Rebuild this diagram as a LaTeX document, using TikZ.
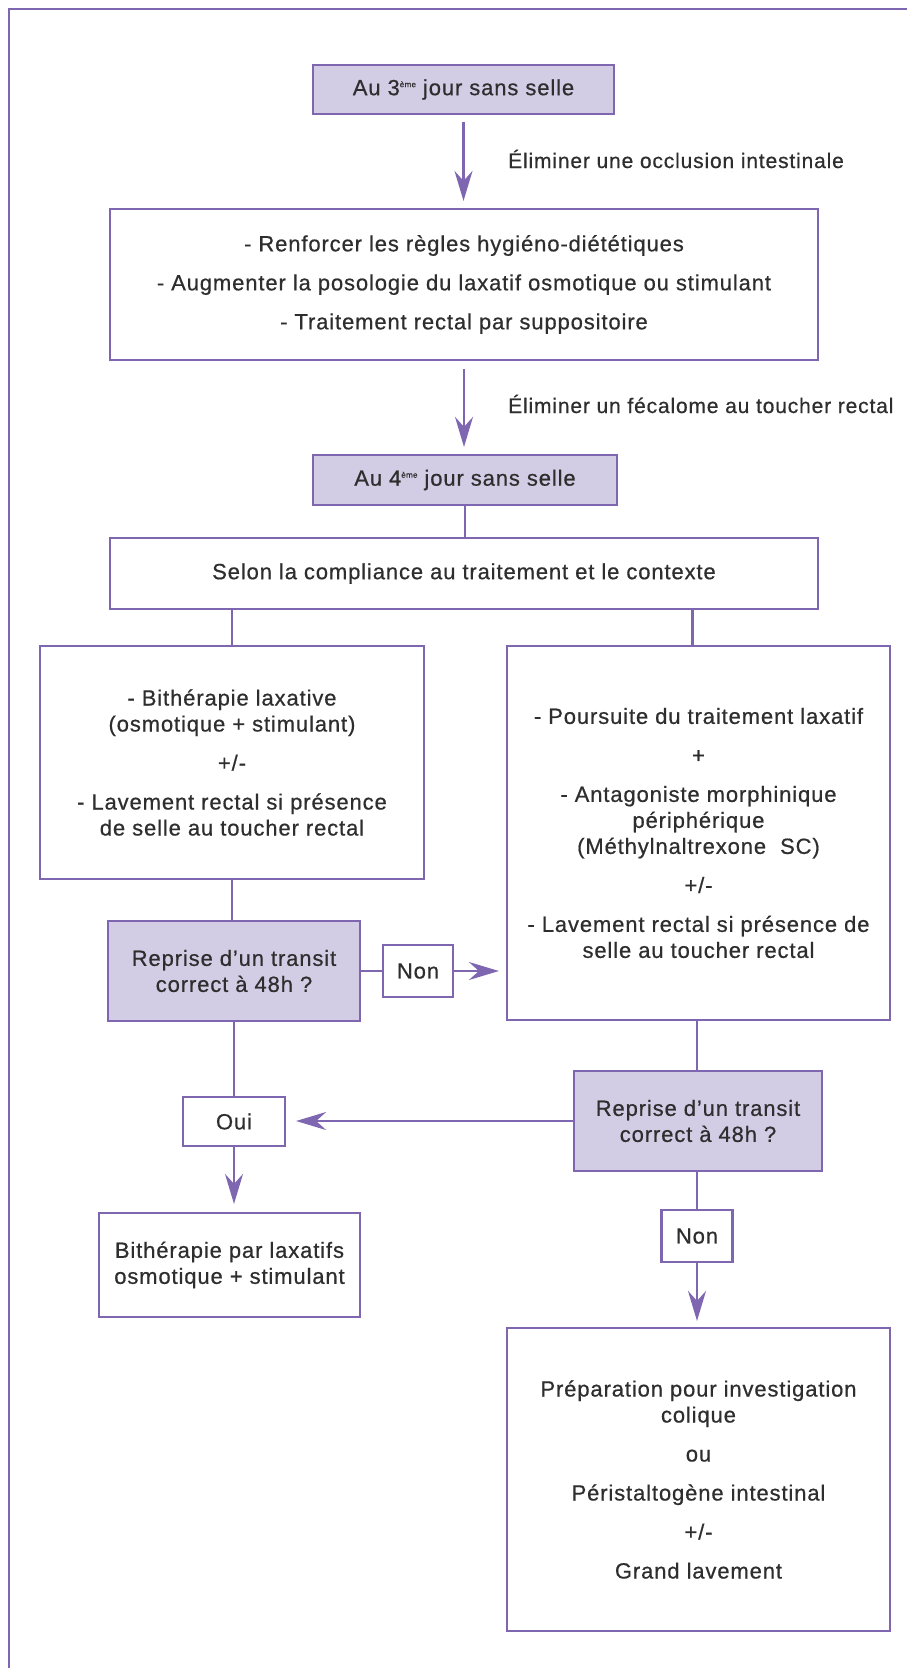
\documentclass[tikz,border=0pt]{standalone}
\usepackage{fontspec}
\setmainfont{Liberation Sans}[LetterSpace=4,FakeBold=0.6]
\usetikzlibrary{arrows.meta,calc}
\definecolor{pur}{HTML}{7E66B0}
\definecolor{lav}{HTML}{D2CCE4}
\definecolor{txt}{HTML}{2E2E2E}
\newcommand{\fs}{\fontsize{22}{26}\selectfont}
\newcommand{\pg}{\\[13pt]}
\newcommand{\eme}{\raisebox{8pt}{\fontsize{8}{8}\selectfont ème}}
\tikzset{
  base/.style={draw=pur, line width=2.2pt, align=center, inner sep=0pt, text=txt, font=\fs},
  box/.style={base, fill=white},
  qbox/.style={base, fill=lav},
  lbl/.style={text=txt, font=\fontsize{21}{26}\selectfont, inner sep=0pt, anchor=west},
  conn/.style={draw=pur, line width=2.2pt},
  arr/.style={conn, -{Stealth[length=30pt,width=18pt,inset=10pt]}},
}
\begin{document}
\begin{tikzpicture}[x=1pt,y=-1pt]
\useasboundingbox (0,0) rectangle (907,1668);
\fill[white] (0,0) rectangle (907,1668);
\draw[conn] (9,1668) -- (9,9) -- (907,9);

\node[qbox, minimum width=301pt, minimum height=49pt] (b1) at (463.5,89.5) {Au 3\eme{} jour sans selle};
\node[box, minimum width=708pt, minimum height=151pt] (b2) at (464,284.5) {- Renforcer les règles hygiéno-diététiques\pg - Augmenter la posologie du laxatif osmotique ou stimulant\pg - Traitement rectal par suppositoire};
\node[qbox, minimum width=304pt, minimum height=50pt] (b3) at (465,480) {Au 4\eme{} jour sans selle};
\node[box, minimum width=708pt, minimum height=71pt] (b4) at (464,573.5) {Selon la compliance au traitement et le contexte};
\node[box, minimum width=384pt, minimum height=233pt] (b5) at (232,762.5) {- Bithérapie laxative\\(osmotique + stimulant)\pg +/-\pg - Lavement rectal si présence\\de selle au toucher rectal};
\node[box, minimum width=383pt, minimum height=374pt] (b6) at (698.5,833) {- Poursuite du traitement laxatif\pg +\pg - Antagoniste morphinique\\périphérique\\(Méthylnaltrexone\ \ SC)\pg +/-\pg - Lavement rectal si présence de\\selle au toucher rectal};
\node[qbox, minimum width=252pt, minimum height=100pt] (b7) at (234,971) {Reprise d’un transit\\correct à 48h ?};
\node[box, minimum width=70pt, minimum height=52pt] (n1) at (418,971) {Non};
\node[qbox, minimum width=248pt, minimum height=100pt] (b8) at (698,1121) {Reprise d’un transit\\correct à 48h ?};
\node[box, minimum width=102pt, minimum height=49pt] (oui) at (234,1121.5) {Oui};
\node[box, minimum width=261pt, minimum height=104pt] (b9) at (229.5,1265) {Bithérapie par laxatifs\\osmotique + stimulant};
\node[box, minimum width=71pt, minimum height=52pt] (n2) at (697,1236) {Non};
\node[box, minimum width=383pt, minimum height=303pt] (b10) at (698.5,1479.5) {Préparation pour investigation\\colique\pg ou\pg Péristaltogène intestinal\pg +/-\pg Grand lavement};

\node[lbl] (l1) at (508,159) {Éliminer une occlusion intestinale};
\node[lbl] (l2) at (508,404) {Éliminer un fécalome au toucher rectal};

\draw[arr, shorten <=7pt, shorten >=7pt] (b1.south) -- (b1.south |- b2.north);
\draw[arr, shorten <=8pt, shorten >=7pt] (b2.south) -- (b2.south |- b3.north);
\draw[conn] (b3.south) -- (b3.south |- b4.north);
\draw[conn] (b5.north) -- (b5.north |- b4.south);
\coordinate (c6) at ([xshift=-6pt]b6.north);
\draw[conn] (c6) -- (c6 |- b4.south);
\draw[conn] (b5.south) -- (b5.south |- b7.north);
\draw[conn] (b7.east) -- (n1.west);
\draw[arr, shorten >=7pt] (n1.east) -- (n1.east -| b6.west);
\draw[conn] (b7.south) -- (oui.north);
\draw[conn] (n2.north |- b6.south) -- (n2.north |- b8.north);
\draw[arr, shorten >=10pt] (b8.west) -- (b8.west -| oui.east);
\draw[arr, shorten >=8pt] (oui.south) -- (oui.south |- b9.north);
\draw[conn] (n2.north |- b8.south) -- (n2.north);
\draw[arr, shorten >=6pt] (n2.south) -- (n2.south |- b10.north);
\end{tikzpicture}
\end{document}
